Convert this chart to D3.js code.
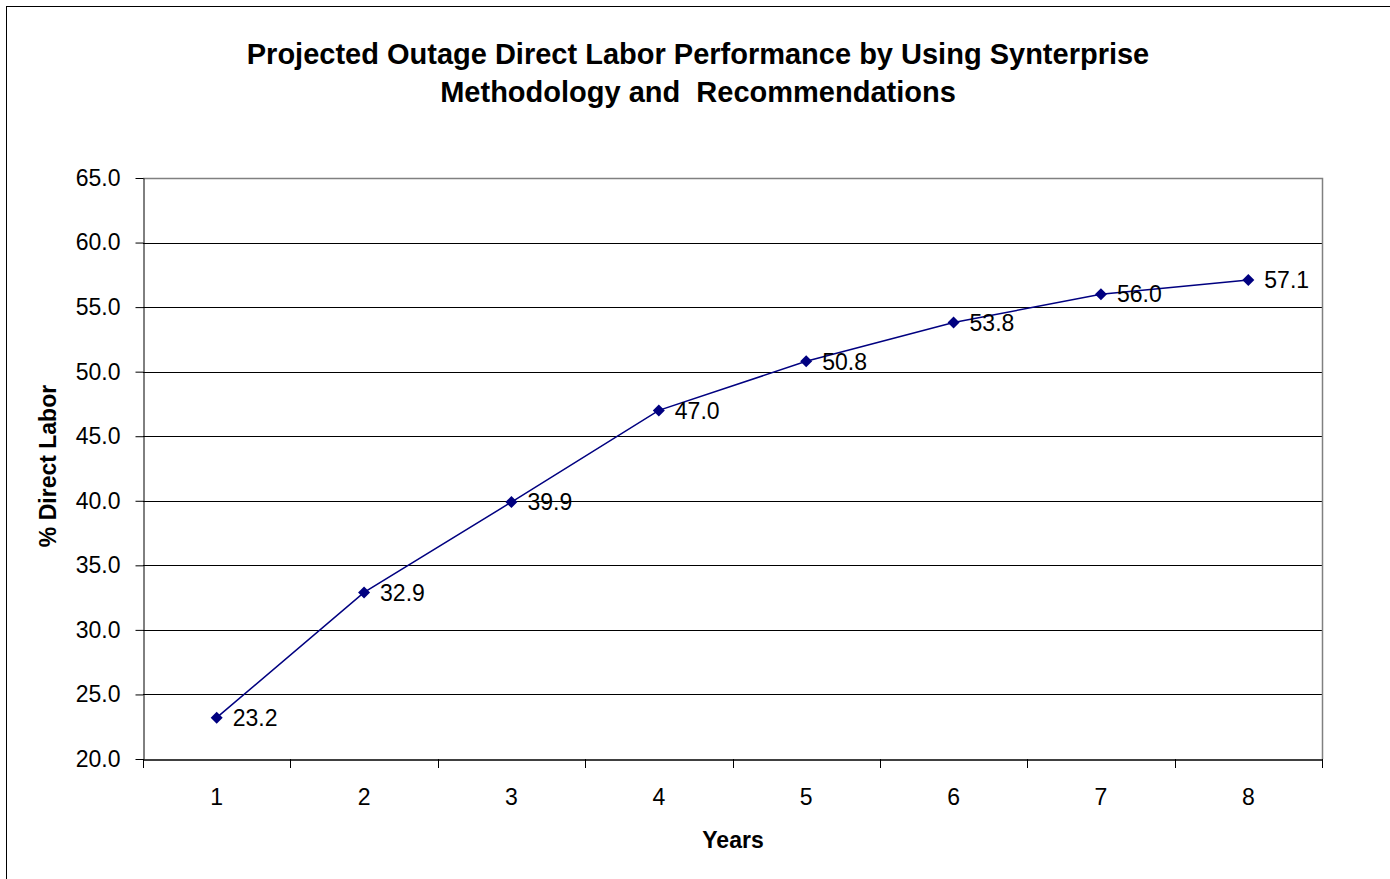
<!DOCTYPE html>
<html>
<head>
<meta charset="utf-8">
<script src="https://cdn.jsdelivr.net/npm/d3@7/dist/d3.min.js"></script>
<style>
html,body{margin:0;padding:0;background:#fff;}
svg{display:block;}
text{font-family:"Liberation Sans",Arial,sans-serif;}
</style>
</head>
<body>
<script>
const years = ["1","2","3","4","5","6","7","8"];
const values = [23.2, 32.9, 39.9, 47.0, 50.8, 53.8, 56.0, 57.1];
const yTicks = [20,25,30,35,40,45,50,55,60,65];
const titleLines = ["Projected Outage Direct Labor Performance by Using Synterprise","Methodology and  Recommendations"];

const W = 1390, H = 879;
const svg = d3.select("body").append("svg").attr("width", W).attr("height", H);

svg.append("rect").attr("x", 6.5).attr("y", 6.5).attr("width", W + 10).attr("height", H + 10)
  .attr("fill", "#fff").attr("stroke", "#000").attr("stroke-width", 1);

const L = 143, R = 1322, T = 178, B = 759;
const x = d3.scaleBand().domain(years).range([L, R]);
const y = d3.scaleLinear().domain([20, 65]).range([B, T]);
const FONT = "'Liberation Sans',Arial,sans-serif";

// gridlines
svg.append("g").selectAll("line").data(yTicks.slice(1, -1)).join("line")
  .attr("x1", L).attr("x2", R).attr("y1", d => Math.round(y(d)) + 0.5).attr("y2", d => Math.round(y(d)) + 0.5)
  .attr("stroke", "#000").attr("stroke-width", 1);

// plot frame top/right gray
svg.append("path").attr("d", `M${L},${T + 0.5}H${R + 0.5}V${B}`)
  .attr("fill", "none").attr("stroke", "#808080").attr("stroke-width", 1.5);

// y axis
const yAxis = svg.append("g").attr("transform", `translate(${L + 0.5},0)`)
  .call(d3.axisLeft(y).tickValues(yTicks).tickFormat(d3.format(".1f")).tickSize(8).tickSizeOuter(0));
yAxis.select(".domain").attr("stroke", "#000");
yAxis.selectAll(".tick line").attr("stroke", "#000");
yAxis.selectAll(".tick text").attr("font-size", 23).attr("fill", "#000").attr("x", -23)
  .attr("font-family", FONT);

// x axis
const xAxis = svg.append("g").attr("transform", `translate(0,${B + 0.5})`)
  .call(d3.axisBottom(x).tickSize(0).tickSizeOuter(0));
xAxis.select(".domain").attr("stroke", "#000").attr("stroke-width", 1.5);
xAxis.selectAll(".tick text").attr("font-size", 23).attr("fill", "#000").attr("y", 37).attr("dy", "0.35em")
  .attr("font-family", FONT);
const bounds = years.map(d => x(d)).concat([R]);
svg.append("g").selectAll("line").data(bounds).join("line")
  .attr("x1", d => Math.round(d) + 0.5).attr("x2", d => Math.round(d) + 0.5)
  .attr("y1", B).attr("y2", B + 9).attr("stroke", "#000").attr("stroke-width", 1);

// line
const cx = d => x(d) + x.bandwidth() / 2;
svg.append("path").datum(values)
  .attr("d", d3.line().x((d, i) => cx(years[i])).y(d => y(d)))
  .attr("fill", "none").attr("stroke", "#000080").attr("stroke-width", 1.5);

// markers
svg.append("g").selectAll("path").data(values).join("path")
  .attr("transform", (d, i) => `translate(${cx(years[i])},${y(d)})`)
  .attr("d", "M0,-6L6,0L0,6L-6,0Z").attr("fill", "#000080");

// labels
svg.append("g").selectAll("text").data(values).join("text")
  .attr("x", (d, i) => cx(years[i]) + 16).attr("y", d => y(d)).attr("dy", "0.36em")
  .attr("font-size", 23).attr("fill", "#000").text(d => d.toFixed(1));

// title
svg.append("g").selectAll("text").data(titleLines).join("text")
  .attr("x", 698).attr("y", (d, i) => 64 + i * 38).attr("text-anchor", "middle")
  .attr("font-size", 29).attr("font-weight", "bold").attr("fill", "#000")
  .style("white-space", "pre").text(d => d);

// axis titles
svg.append("text").attr("x", 733).attr("y", 848).attr("text-anchor", "middle")
  .attr("font-size", 23).attr("font-weight", "bold").text("Years");
svg.append("text").attr("transform", "translate(56,466) rotate(-90)").attr("text-anchor", "middle")
  .attr("font-size", 23).attr("font-weight", "bold").text("% Direct Labor");
</script>
</body>
</html>
